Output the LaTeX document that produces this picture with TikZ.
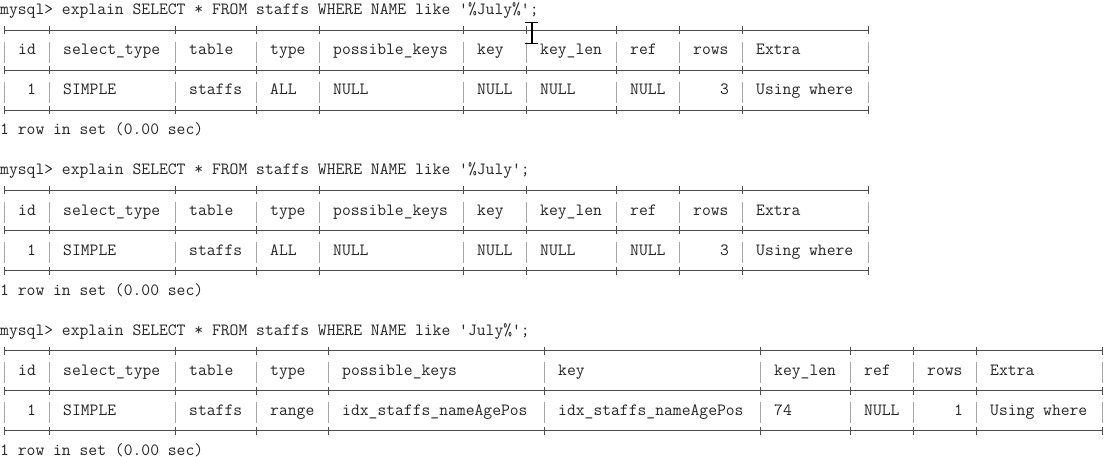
\documentclass[tikz,border=0pt]{standalone}
% frame of one result table: #1 = first line, #2 = column separators, #3 = last separator
\newcommand{\sqlframe}[3]{%
  \foreach \b in {1,3,5}{
    \draw[rule] (0.5,{-(#1+\b+0.525)}) -- ({#3+0.5},{-(#1+\b+0.525)});
    \foreach \s in {#2}
      \draw[rule] ({\s+0.5},{-(#1+\b+0.325)}) -- ({\s+0.5},{-(#1+\b+0.725)});
  }
  \foreach \r in {2,4}
    \foreach \s in {#2}
      \draw[bar] ({\s+0.5},{-(#1+\r+0.1)}) -- ({\s+0.5},{-(#1+\r+1.15)});
}
\begin{document}
\begin{tikzpicture}[x=9pt,y=20pt,
	txt/.style={anchor=base west,inner sep=0pt,text=black!85,
		font=\ttfamily\fontsize{17.14}{20}\selectfont},
	rule/.style={draw=black!70,line width=0.8pt},
	bar/.style={draw=black!35,line width=0.8pt}]
	\useasboundingbox[fill=white] (0,0) rectangle (123.444,-22.85);
	% first query
	\node[txt] (cmd1) at (0,-0.75) {mysql> explain SELECT * FROM staffs WHERE NAME like '\%July\%';};
	\sqlframe{0}{0,5,19,28,35,51,58,68,75,82,96}{96}
	\foreach \c/\t in {2/id,7/select\_type,21/table,30/type,37/possible\_keys,53/key,60/key\_len,70/ref,77/rows,84/Extra}
		\node[txt] (a-\c) at (\c,-2.75) {\t};
	\foreach \c/\t in {3/1,7/SIMPLE,21/staffs,30/ALL,37/NULL,53/NULL,60/NULL,70/NULL,80/3,84/Using where}
		\node[txt] (b-\c) at (\c,-4.75) {\t};
	\node[txt] (res1) at (0,-6.75) {1 row in set (0.00 sec)};
	% cursor
	\draw[line width=1.6pt] (59.08,-1.14) -- (59.08,-2.16);
	\draw[line width=1.1pt] (58.35,-1.14) -- (59.8,-1.14) (58.35,-2.16) -- (59.8,-2.16);
	% second query
	\node[txt] (cmd2) at (0,-8.75) {mysql> explain SELECT * FROM staffs WHERE NAME like '\%July';};
	\sqlframe{8}{0,5,19,28,35,51,58,68,75,82,96}{96}
	\foreach \c/\t in {2/id,7/select\_type,21/table,30/type,37/possible\_keys,53/key,60/key\_len,70/ref,77/rows,84/Extra}
		\node[txt] (c-\c) at (\c,-10.75) {\t};
	\foreach \c/\t in {3/1,7/SIMPLE,21/staffs,30/ALL,37/NULL,53/NULL,60/NULL,70/NULL,80/3,84/Using where}
		\node[txt] (d-\c) at (\c,-12.75) {\t};
	\node[txt] (res2) at (0,-14.75) {1 row in set (0.00 sec)};
	% third query
	\node[txt] (cmd3) at (0,-16.75) {mysql> explain SELECT * FROM staffs WHERE NAME like 'July\%';};
	\sqlframe{16}{0,5,19,28,36,60,84,94,101,108,122}{122}
	\foreach \c/\t in {2/id,7/select\_type,21/table,30/type,38/possible\_keys,62/key,86/key\_len,96/ref,103/rows,110/Extra}
		\node[txt] (e-\c) at (\c,-18.75) {\t};
	\foreach \c/\t in {3/1,7/SIMPLE,21/staffs,30/range,38/idx\_staffs\_nameAgePos,62/idx\_staffs\_nameAgePos,86/74,96/NULL,106/1,110/Using where}
		\node[txt] (f-\c) at (\c,-20.75) {\t};
	\node[txt] (res3) at (0,-22.75) {1 row in set (0.00 sec)};
\end{tikzpicture}
\end{document}
